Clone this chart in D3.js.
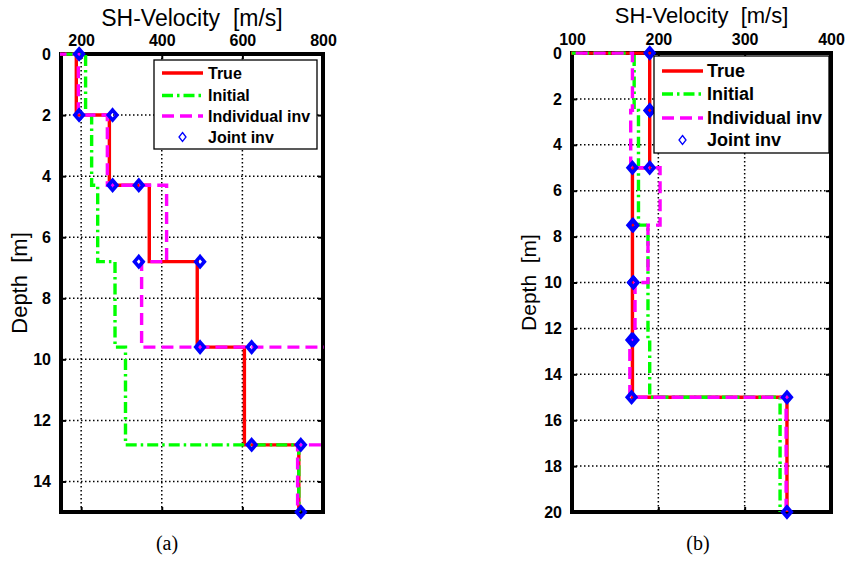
<!DOCTYPE html>
<html>
<head>
<meta charset="utf-8">
<script src="https://cdn.jsdelivr.net/npm/d3@7"></script>
<style>
  body { margin: 0; background: #fff; }
  svg { display: block; }
  text { font-family: Arial, "Liberation Sans", sans-serif; white-space: pre; }
</style>
</head>
<body>
<div class="chart"></div>
<script>
// ---- panel (a): layer boundaries [m] and velocities [m/s] per layer
const depthsA = [0, 2, 4.3, 6.8, 9.6, 12.8, 15];
const trueA = [188, 270, 369, 488, 605, 740];
const initialA = [211, 226, 241, 284, 310, 740];
const individualA = [193, 265, 412, 350, 900, 737];
const jointA = [195, 278, 343, 495, 623, 745];
const xTicksA = [200, 400, 600, 800];
const yTicksA = [0, 2, 4, 6, 8, 10, 12, 14];

// ---- panel (b)
const depthsB = [0, 2.5, 5, 7.5, 10, 12.5, 15, 20];
const trueB = [190, 190, 170, 170, 170, 170, 349];
const initialB = [172, 177, 177, 188, 188, 190, 341];
const individualB = [170, 168, 202, 188, 173, 167, 348];
const jointB = [190, 190, 170, 171, 171, 169, 349];
const xTicksB = [100, 200, 300, 400];
const yTicksB = [0, 2, 4, 6, 8, 10, 12, 14, 16, 18, 20];

const legendNames = ["True", "Initial", "Individual inv", "Joint inv"];

const svg = d3.select(".chart")
    .append("svg")
    .attr("width", 846)
    .attr("height", 561);

// turn layer arrays into a stair path (starts from 0 m/s at the surface)
function stairs(depths, vels) {
    let pts = [[0, depths[0]]];
    vels.forEach((v, i) => {
        pts.push([v, depths[i]]);
        pts.push([v, depths[i + 1]]);
    });
    return pts;
}

function diamond(cx, cy, hw, hh) {
    return "M" + cx + "," + (cy - hh) + "L" + (cx + hw) + "," + cy +
        "L" + cx + "," + (cy + hh) + "L" + (cx - hw) + "," + cy + "Z";
}

function plotPanel(cfg) {
    const x = d3.scaleLinear().domain(cfg.xDomain).range([cfg.left, cfg.right]);
    const y = d3.scaleLinear().domain(cfg.yDomain).range([cfg.top, cfg.bottom]);
    const g = svg.append("g");

    // grid
    g.selectAll(".gx").data(cfg.xTicks.filter(t => t > cfg.xDomain[0] && t < cfg.xDomain[1]))
        .enter().append("line")
        .attr("x1", d => x(d)).attr("x2", d => x(d))
        .attr("y1", cfg.top).attr("y2", cfg.bottom)
        .attr("stroke", "#000").attr("stroke-width", 1.5).attr("stroke-dasharray", "1.5,2.5");
    g.selectAll(".gy").data(cfg.yTicks.filter(t => t > cfg.yDomain[0] && t < cfg.yDomain[1]))
        .enter().append("line")
        .attr("y1", d => y(d)).attr("y2", d => y(d))
        .attr("x1", cfg.left).attr("x2", cfg.right)
        .attr("stroke", "#000").attr("stroke-width", 1.5).attr("stroke-dasharray", "1.5,2.5");

    // axes: top and left, plus mirrored ticks on the other sides
    const axTop = g.append("g").attr("transform", "translate(0," + cfg.top + ")")
        .call(d3.axisTop(x).tickValues(cfg.xTicks).tickSizeInner(-5).tickSizeOuter(0).tickPadding(8));
    const axLeft = g.append("g").attr("transform", "translate(" + cfg.left + ",0)")
        .call(d3.axisLeft(y).tickValues(cfg.yTicks).tickSizeInner(-5).tickSizeOuter(0).tickPadding(10));
    g.append("g").attr("transform", "translate(0," + cfg.bottom + ")")
        .call(d3.axisBottom(x).tickValues(cfg.xTicks).tickSizeInner(-5).tickSizeOuter(0).tickFormat(""));
    g.append("g").attr("transform", "translate(" + cfg.right + ",0)")
        .call(d3.axisRight(y).tickValues(cfg.yTicks).tickSizeInner(-5).tickSizeOuter(0).tickFormat(""));
    g.selectAll(".domain").remove();
    g.selectAll(".tick line").attr("stroke", "#000").attr("stroke-width", 2);
    [axTop, axLeft].forEach(a => a.selectAll("text")
        .attr("fill", "#000")
        .style("font-family", "Arial, 'Liberation Sans', sans-serif")
        .style("font-weight", "bold")
        .style("font-size", cfg.tickFont + "px"));

    // frame
    g.append("rect")
        .attr("x", cfg.left).attr("y", cfg.top)
        .attr("width", cfg.right - cfg.left).attr("height", cfg.bottom - cfg.top)
        .attr("fill", "none").attr("stroke", "#000").attr("stroke-width", 4);

    // clip for profiles
    g.append("clipPath").attr("id", cfg.id + "clip")
        .append("rect")
        .attr("x", cfg.left - 1).attr("y", cfg.top - 1.5)
        .attr("width", cfg.right - cfg.left + 2).attr("height", cfg.bottom - cfg.top + 3);

    const line = d3.line().x(d => x(d[0])).y(d => y(d[1]));
    const series = [
        {vals: cfg.trueV, color: "#ff0000", dash: null},
        {vals: cfg.initialV, color: "#00ff00", dash: "11,4,2.5,4"},
        {vals: cfg.individualV, color: "#ff00ff", dash: "12,6"}
    ];
    const lines = g.append("g").attr("clip-path", "url(#" + cfg.id + "clip)");
    series.forEach(s => {
        lines.append("path")
            .datum(stairs(cfg.depths, s.vals))
            .attr("d", line)
            .attr("fill", "none")
            .attr("stroke", s.color)
            .attr("stroke-width", 3.4)
            .attr("stroke-dasharray", s.dash);
    });

    // joint inversion: diamonds at top and bottom of each layer
    let jointPts = [];
    cfg.jointV.forEach((v, i) => {
        jointPts.push([v, cfg.depths[i]], [v, cfg.depths[i + 1]]);
    });
    g.selectAll(".joint").data(jointPts).enter().append("path")
        .attr("d", d => diamond(x(d[0]), y(d[1]), 4.3, 5))
        .attr("fill", "none")
        .attr("stroke", "#0000ff")
        .attr("stroke-width", 3.6);

    // legend
    const lg = cfg.legend;
    g.append("rect")
        .attr("x", lg.x).attr("y", lg.y).attr("width", lg.w).attr("height", lg.h)
        .attr("fill", "#fff").attr("stroke", "#000").attr("stroke-width", 1.3);
    legendNames.forEach((name, i) => {
        const ry = lg.rows[i];
        if (i < 3) {
            g.append("line")
                .attr("x1", lg.sx1).attr("x2", lg.sx2)
                .attr("y1", ry).attr("y2", ry)
                .attr("stroke", series[i].color)
                .attr("stroke-width", 3.4)
                .attr("stroke-dasharray", series[i].dash);
        } else {
            g.append("path")
                .attr("d", diamond((lg.sx1 + lg.sx2) / 2, ry, 3.5, 4.5))
                .attr("fill", "none").attr("stroke", "#0000ff").attr("stroke-width", 1.3);
        }
        g.append("text")
            .attr("x", lg.tx).attr("y", ry).attr("dy", "0.36em")
            .style("font-weight", "bold")
            .style("font-size", lg.font + "px")
            .text(name);
    });

    // titles
    g.append("text")
        .attr("x", (cfg.left + cfg.right) / 2).attr("y", cfg.titleY)
        .attr("text-anchor", "middle")
        .style("font-size", cfg.titleFont + "px")
        .text("SH-Velocity  [m/s]");
    g.append("text")
        .attr("transform", "translate(" + cfg.yLabelX + "," + ((cfg.top + cfg.bottom) / 2) + ") rotate(-90)")
        .attr("text-anchor", "middle")
        .style("font-size", cfg.titleFont - 1 + "px")
        .text("Depth  [m]");
    g.append("text")
        .attr("x", cfg.capX).attr("y", 550)
        .attr("text-anchor", "middle")
        .style("font-family", "'Times New Roman', 'Liberation Serif', serif")
        .style("font-size", "20px")
        .text(cfg.caption);
}

plotPanel({
    id: "a", left: 61, right: 323, top: 54, bottom: 512,
    xDomain: [150, 800], yDomain: [0, 15],
    xTicks: xTicksA, yTicks: yTicksA, tickFont: 16,
    depths: depthsA, trueV: trueA, initialV: initialA, individualV: individualA, jointV: jointA,
    legend: {x: 154, y: 60, w: 163, h: 89, sx1: 162, sx2: 203, tx: 208,
        rows: [73, 95.5, 116, 137], font: 16},
    titleY: 26, titleFont: 23, yLabelX: 27, capX: 167, caption: "(a)"
});

plotPanel({
    id: "b", left: 572, right: 831, top: 53, bottom: 512,
    xDomain: [100, 400], yDomain: [0, 20],
    xTicks: xTicksB, yTicks: yTicksB, tickFont: 16,
    depths: depthsB, trueV: trueB, initialV: initialB, individualV: individualB, jointV: jointB,
    legend: {x: 654, y: 56, w: 175, h: 97, sx1: 662, sx2: 703, tx: 707,
        rows: [71, 94, 118, 140], font: 18},
    titleY: 23, titleFont: 22, yLabelX: 536, capX: 698, caption: "(b)"
});
</script>
</body>
</html>
